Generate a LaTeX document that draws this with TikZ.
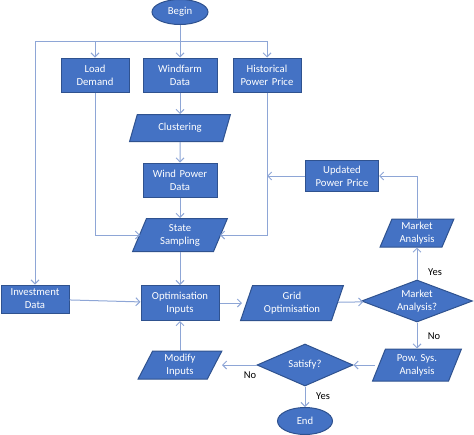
\documentclass[tikz,border=0pt]{standalone}
\usepackage{fontspec}
\setmainfont{Carlito}
\usetikzlibrary{shapes.geometric,arrows.meta}
\definecolor{boxfill}{HTML}{4472C4}
\definecolor{boxline}{HTML}{2F528F}
\definecolor{conn}{HTML}{8EA6D6}
\newcommand{\dtext}[1]{\makebox[0pt][c]{\begin{tabular}{@{}c@{}}#1\end{tabular}}}
\begin{document}
\begin{tikzpicture}[x=1pt,y=-1pt,
  base/.style={fill=boxfill, draw=boxline, line width=1pt, text=white,
    font=\fontsize{10.7}{13}\selectfont, align=center, inner sep=1pt},
  procbox/.style={base, rectangle, minimum height=34, text width=#1-4, minimum width=#1},
  iobox/.style={base, trapezium, trapezium left angle=70, trapezium right angle=110,
    trapezium stretches=true, minimum width=#1},
  decbox/.style={base, diamond, inner sep=0pt, aspect=2.6},
  termbox/.style={base, ellipse, inner sep=0pt, minimum width=56, minimum height=25},
  conn/.style={draw=conn, line width=1pt},
  arr/.style={conn, -{Straight Barb[length=4pt,width=8pt,line width=1pt]}},
  lbl/.style={font=\fontsize{10.5}{12}\selectfont, text=black, inner sep=0pt}]
\useasboundingbox (0,0) rectangle (474,434);

\node[termbox] (begin) at (180,12) {Begin};
\node[procbox=68] (load) at (95,75) {Load\\Demand};
\node[procbox=74] (wind) at (180,75) {Windfarm\\Data};
\node[procbox=68] (hist) at (267,75) {Historical\\Power Price};
\node[iobox=101, minimum height=27] (clus) at (180,128) {Clustering};
\node[procbox=74] (wpd) at (180,180) {Wind Power\\Data};
\node[iobox=95, minimum height=33] (state) at (180,235) {State\\Sampling};
\node[procbox=73, minimum height=31] (upd) at (342,176) {Updated\\Power Price};
\node[iobox=74, minimum height=28] (mark) at (417,233) {Market\\Analysis};
\node[decbox, minimum width=111, minimum height=42] (markq) at (417,301) {\dtext{Market\\Analysis?}};
\node[procbox=68, minimum height=28] (inv) at (35,299) {Investment\\Data};
\node[procbox=78, minimum height=35] (opt) at (180,303) {Optimisation\\Inputs};
\node[iobox=103, minimum height=35] (grid) at (292,303) {Grid\\Optimisation};
\node[iobox=89, minimum height=32] (pow) at (417,365) {Pow. Sys.\\Analysis};
\node[decbox, minimum width=96, minimum height=42] (sat) at (305,365) {\dtext{Satisfy?}};
\node[iobox=84, minimum height=28] (mod) at (180,365) {Modify\\Inputs};
\node[termbox, minimum width=55, minimum height=27] (end) at (305,421) {End};

\coordinate (jl) at (35,41);
\coordinate (jr) at (267,41);
\coordinate (jc) at (180,41);

% top distribution
\draw[conn] (begin) -- (jc);
\draw[conn] (jl) -- (jr);
\draw[arr] (jc) -- (wind);
\draw[arr] (jc -| load) -- (load);
\draw[arr] (jr) -- (hist);
\draw[arr] (jl) -- (inv);

\draw[arr] (wind) -- (clus);
\draw[arr] (clus) -- (wpd);
\draw[arr] (wpd) -- (state);
\draw[arr] (load) |- ([xshift=-40]state.center);
\draw[arr] (hist) |- ([xshift=40]state.center);
\draw[arr] (upd.west) -- (upd.west -| hist);
\draw[arr] (mark) |- (upd.east);
\draw[arr] (state) -- (opt);
\draw[arr] (inv) -- (opt);
\draw[arr] (opt) -- ([xshift=-50]grid.center);
\draw[arr] (grid) -- (markq);
\draw[arr] (markq) -- (mark);
\draw[arr] (markq) -- (pow);
\draw[arr] ([xshift=-42]pow.center) -- (sat);
\draw[arr] (sat) -- ([xshift=42]mod.center);
\draw[arr] (mod) -- (opt);
\draw[arr] (sat) -- (end);

\node[lbl] (yes1) at (435,272) {Yes};
\node[lbl] (no1) at (434,336) {No};
\node[lbl] (no2) at (250,375) {No};
\node[lbl] (yes2) at (323,396) {Yes};
\end{tikzpicture}
\end{document}
